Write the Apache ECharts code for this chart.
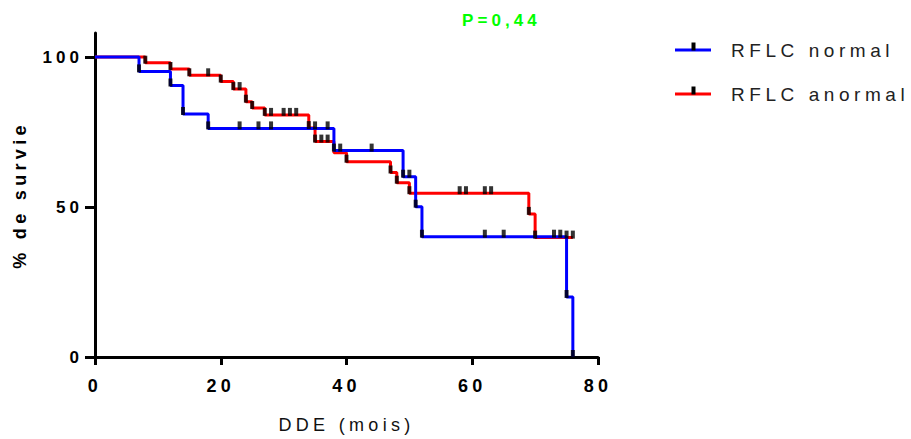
<!DOCTYPE html>
<html>
<head>
<meta charset="utf-8">
<script src="https://cdn.jsdelivr.net/npm/echarts@6.0.0/dist/echarts.min.js"></script>
<style>
  html, body { margin: 0; padding: 0; background: #fff; }
  #chart { width: 911px; height: 439px; }
  #chart text { letter-spacing: 0.24em; }
</style>
</head>
<body>
<div id="chart"></div>
<script>
// ---- data ----
const seriesNames = ['RFLC normal', 'RFLC anormal'];
const xTicks = [0, 20, 40, 60, 80];
const yTicks = [0, 50, 100];

// Kaplan-Meier steps (time in months, % survival)
const normalT = [0, 7, 12, 14, 18, 38, 49, 51, 52, 75, 76];
const normalS = [100, 95.2, 90.5, 81.0, 76.2, 68.8, 60.1, 50.1, 40.1, 20.0, 0];
const anormalT = [0, 8, 12, 15, 20, 22, 24, 25, 27, 34, 35, 38, 40, 47, 48, 50, 69, 70, 76];
const anormalS = [100, 98.1, 96.0, 93.9, 91.8, 89.3, 85.1, 83.0, 80.7, 76.3, 71.8, 68.1, 65.1, 61.5, 58.1, 54.6, 47.7, 39.8, 39.8];

// censor tick times (months)
const normalCensor = [7, 12, 14, 18, 23, 26, 28, 35, 37, 38, 39, 44, 49, 50, 51, 52, 62, 65, 73, 74, 75, 76];
const anormalCensor = [8, 12, 15, 18, 20, 22, 23, 24, 25, 27, 28, 30, 31, 32, 34, 35, 36, 37, 40, 47, 48, 50, 58, 59, 62, 63, 69, 70, 75, 76];

const pValueText = 'P=0,44';
const xTitle = 'DDE (mois)';
const yTitle = '% de survie';

// ---- helpers ----
function pairs(T, S) { return T.map((t, i) => [t, S[i]]); }
function stepValue(T, S, t) {
  let v = S[0];
  for (let i = 0; i < T.length; i++) { if (T[i] <= t) v = S[i]; }
  return v;
}
function censorPoints(times, T, S) { return times.map(t => [t, stepValue(T, S, t)]); }

const FONT = 'Liberation Sans, Arial, Helvetica, sans-serif';
const chart = echarts.init(document.getElementById('chart'), null, { renderer: 'svg' });

const tickSymbol = {
  type: 'scatter',
  symbol: 'rect',
  symbolSize: [4, 8],
  symbolOffset: [0, -3],
  itemStyle: { color: '#000' },
  z: 5,
  silent: true
};

chart.setOption({
  animation: false,
  backgroundColor: '#fff',
  title: {
    text: pValueText,
    left: 462,
    top: 12,
    padding: 0,
    textStyle: { color: '#00FF00', fontSize: 17, fontWeight: 'bold', fontFamily: FONT }
  },
  legend: {
    data: seriesNames,
    orient: 'vertical',
    left: 675,
    top: 39,
    padding: 0,
    itemWidth: 36,
    itemHeight: 3,
    itemGap: 22,
    icon: 'rect',
    selectedMode: false,
    textStyle: { fontSize: 19, color: '#222', fontFamily: FONT, lineHeight: 22, padding: [0, 0, 0, 15] }
  },
  graphic: [
    { type: 'rect', x: 691.5, y: 42.5, shape: { width: 4, height: 8 }, style: { fill: '#000' }, z: 10 },
    { type: 'rect', x: 691.5, y: 86.5, shape: { width: 4, height: 8 }, style: { fill: '#000' }, z: 10 }
  ],
  grid: { left: 95, right: 313, top: 33, bottom: 82, containLabel: false },
  xAxis: {
    type: 'value',
    min: xTicks[0],
    max: xTicks[xTicks.length - 1],
    interval: 20,
    name: xTitle,
    nameLocation: 'middle',
    nameGap: 59,
    nameTextStyle: { fontSize: 18, color: '#111', fontFamily: FONT },
    axisLine: { show: true, onZero: false, lineStyle: { color: '#000', width: 3 } },
    axisTick: { show: true, length: 8, lineStyle: { color: '#000', width: 3 } },
    axisLabel: { fontSize: 18, fontWeight: 'bold', color: '#000', fontFamily: FONT, margin: 20 },
    splitLine: { show: false }
  },
  yAxis: {
    type: 'value',
    min: 0,
    max: 108,
    interval: 50,
    name: yTitle,
    nameLocation: 'middle',
    nameRotate: 90,
    nameGap: 66,
    nameTextStyle: { fontSize: 18, fontWeight: 'bold', color: '#000', fontFamily: FONT },
    axisLine: { show: true, onZero: false, lineStyle: { color: '#000', width: 3 } },
    axisTick: { show: true, length: 10, customValues: yTicks, lineStyle: { color: '#000', width: 3 } },
    axisLabel: { fontSize: 17, fontWeight: 'bold', color: '#000', fontFamily: FONT, margin: 12, customValues: yTicks },
    splitLine: { show: false }
  },
  series: [
    {
      name: seriesNames[1],
      type: 'line',
      step: 'end',
      data: pairs(anormalT, anormalS),
      showSymbol: false,
      color: '#FF0000',
      lineStyle: { color: '#FF0000', width: 3 },
      z: 2,
      silent: true
    },
    {
      name: seriesNames[0],
      type: 'line',
      step: 'end',
      data: pairs(normalT, normalS),
      showSymbol: false,
      color: '#0000FF',
      lineStyle: { color: '#0000FF', width: 3 },
      z: 3,
      silent: true
    },
    Object.assign({ name: 'anormal censure', data: censorPoints(anormalCensor, anormalT, anormalS) }, tickSymbol),
    Object.assign({ name: 'normal censure', data: censorPoints(normalCensor, normalT, normalS) }, tickSymbol)
  ]
});
</script>
</body>
</html>
